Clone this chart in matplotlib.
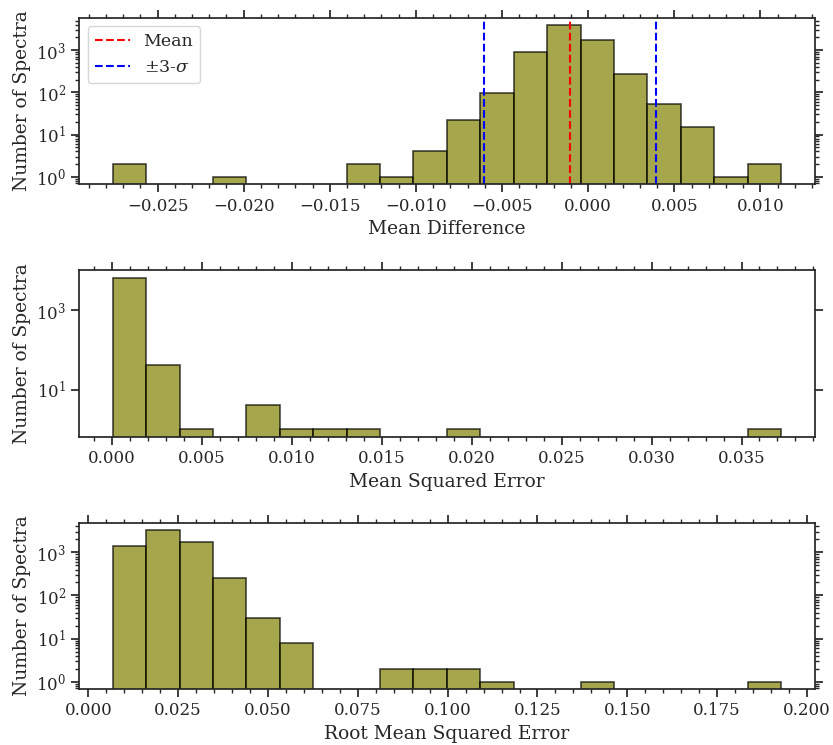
import numpy as np
import matplotlib
matplotlib.use("Agg")
import matplotlib.pyplot as plt
from matplotlib.ticker import AutoMinorLocator

# ---- data ----
md_range = (-0.0276, 0.0112)
md_counts = [2, 0, 0, 1, 0, 0, 0, 2, 1, 4, 22, 94, 920, 3860, 1770, 278, 53, 15, 1, 2]
md_mean = -0.00106
md_sigma = 0.001663

mse_range = (0.0000556, 0.0372)
mse_counts = [6500, 41, 1, 0, 4, 1, 1, 1, 0, 0, 1, 0, 0, 0, 0, 0, 0, 0, 0, 1]

rmse_range = (0.00679, 0.1928)
rmse_counts = [1430, 3260, 1715, 259, 30, 8, 0, 0, 2, 2, 2, 1, 0, 0, 1, 0, 0, 0, 0, 1]

xlabels = ["Mean Difference", "Mean Squared Error", "Root Mean Squared Error"]
ylabel = "Number of Spectra"

plt.rcParams.update({
    "font.family": ["DejaVu Serif"],
    "font.size": 12,
    "axes.labelsize": 13.4,
    "mathtext.fontset": "dejavuserif",
    "text.color": ".15",
    "axes.labelcolor": ".15",
    "axes.edgecolor": ".15",
    "axes.linewidth": 1.25,
    "xtick.color": ".15",
    "ytick.color": ".15",
    "xtick.direction": "out",
    "ytick.direction": "out",
    "xtick.top": True,
    "ytick.right": True,
    "xtick.major.size": 6,
    "ytick.major.size": 6,
    "xtick.minor.size": 3,
    "ytick.minor.size": 3,
    "xtick.major.width": 1.25,
    "ytick.major.width": 1.25,
    "xtick.minor.width": 1.0,
    "ytick.minor.width": 1.0,
    "legend.fontsize": 12.5,
})

fig, axes = plt.subplots(3, 1, figsize=(8.33, 7.45), dpi=100)
fig.subplots_adjust(left=0.0952, right=0.9778, top=0.9762, bottom=0.0748, hspace=0.515)

datasets = [(md_range, md_counts), (mse_range, mse_counts), (rmse_range, rmse_counts)]
for ax, (rng, counts), xl in zip(axes, datasets, xlabels):
    edges = np.linspace(rng[0], rng[1], len(counts) + 1)
    centers = 0.5 * (edges[:-1] + edges[1:])
    ax.hist(centers, bins=edges, weights=counts, log=True, color="olive",
            alpha=0.7, edgecolor="black", linewidth=1.2)
    ax.set_xlabel(xl)
    ax.set_ylabel(ylabel)
    ax.xaxis.set_minor_locator(AutoMinorLocator())

ax = axes[0]
ax.axvline(md_mean, color="red", linestyle="--", linewidth=1.5, label="Mean")
ax.axvline(md_mean - 3 * md_sigma, color="blue", linestyle="--", linewidth=1.5,
           label=r"$\pm$3-$\sigma$")
ax.axvline(md_mean + 3 * md_sigma, color="blue", linestyle="--", linewidth=1.5)
ax.legend(loc="upper left")

fig.savefig("out.png", dpi=100)
